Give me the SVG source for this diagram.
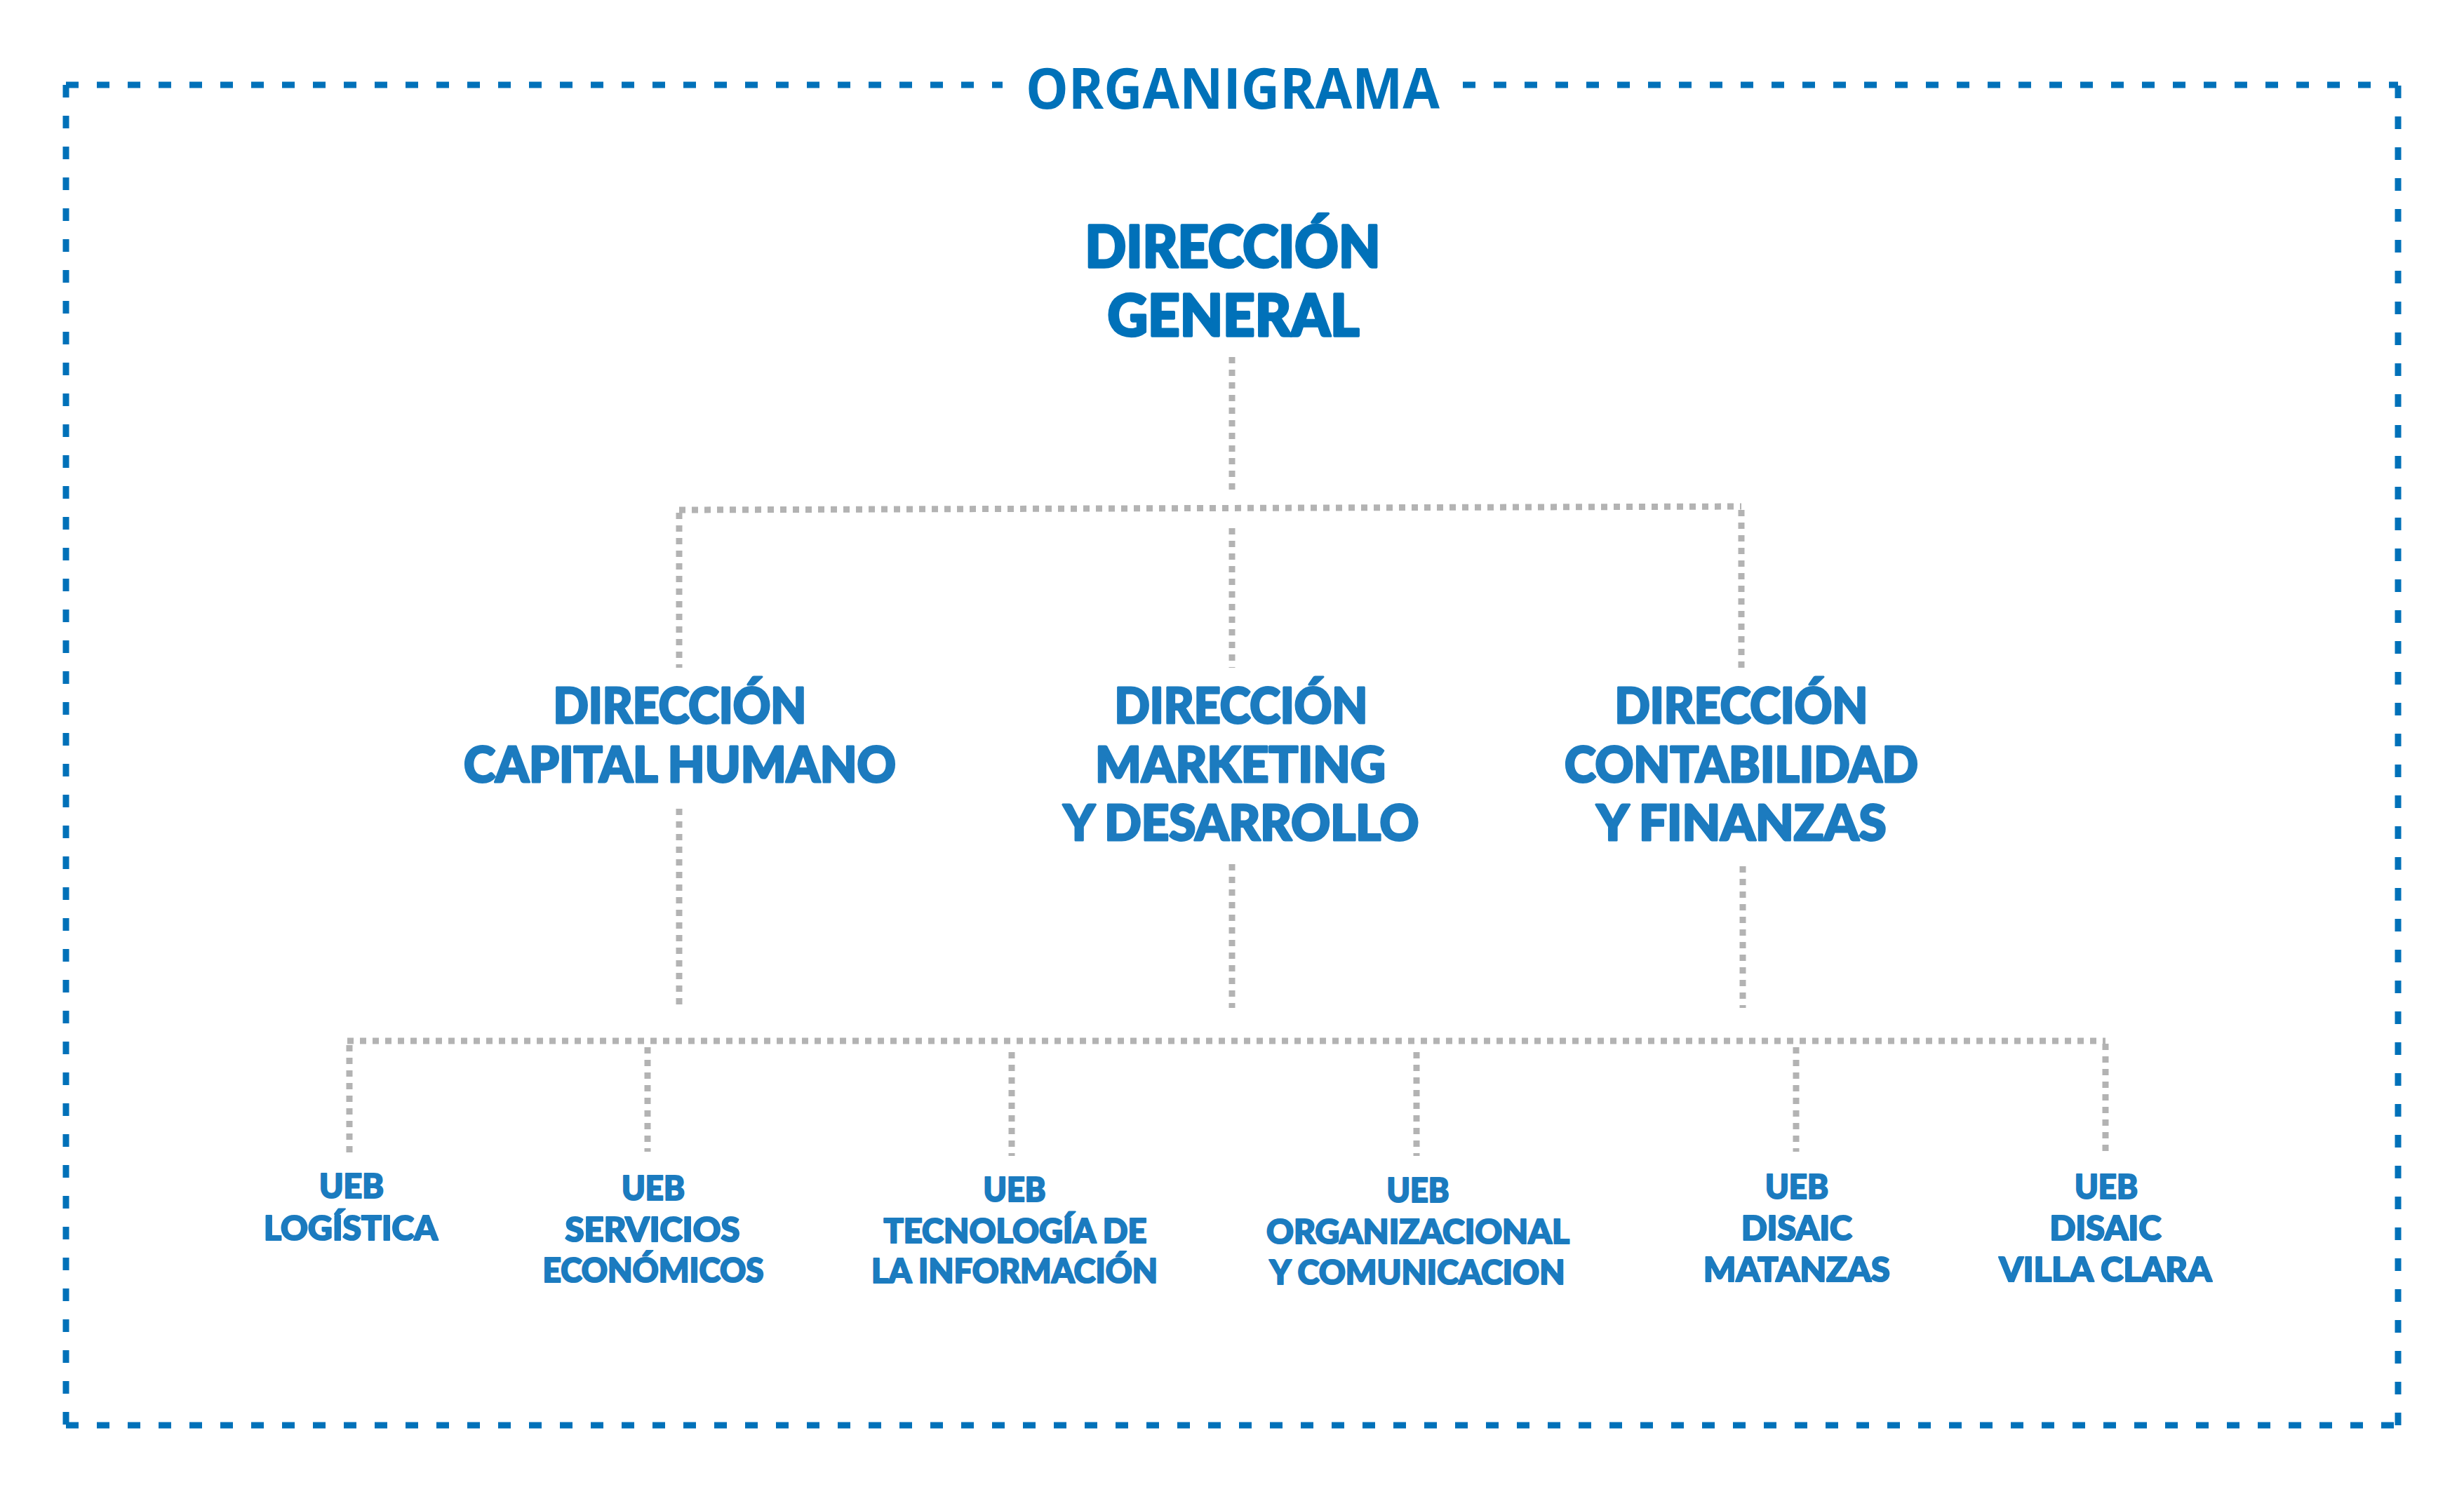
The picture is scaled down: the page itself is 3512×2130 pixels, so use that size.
<svg xmlns="http://www.w3.org/2000/svg" width="3512" height="2130" viewBox="0 0 3512 2130">
<style>
.bg{fill:#ffffff}
.frame{fill:none;stroke:#0071b9;stroke-width:9;stroke-dasharray:18 26}
.conn{fill:none;stroke:#b3b3b3;stroke-width:9;stroke-dasharray:9 9}
.title{font-family:"Open Sans","Liberation Sans",sans-serif;font-weight:700;font-size:80px;fill:#0071b9;text-anchor:middle}
.l1{font-family:Lato,"Liberation Sans",sans-serif;font-weight:900;font-size:81px;fill:#0071b9;stroke:#0071b9;stroke-width:3.5;stroke-linejoin:round;text-anchor:middle}
.l2{font-family:Lato,"Liberation Sans",sans-serif;font-weight:900;font-size:70px;fill:#1c7bbf;stroke:#1c7bbf;stroke-width:3;stroke-linejoin:round;text-anchor:middle}
.l3{font-family:Lato,"Liberation Sans",sans-serif;font-weight:900;font-size:48px;fill:#1b7bbf;stroke:#1b7bbf;stroke-width:2.2;stroke-linejoin:round;text-anchor:middle}
</style>
<rect class="bg" x="0" y="0" width="3512" height="2130"/>
<g id="frame">
<path class="frame" d="M94,121 H1429 M2085,121 H3418 M94,121 V2032 M94,2032 H3418 M3418,2032 V121"/>
</g>
<g id="title">
<text class="title" x="1757" y="155" textLength="590" lengthAdjust="spacingAndGlyphs">ORGANIGRAMA</text>
</g>
<g id="connectors">
<path class="conn" d="M1756,509 V706"/>
<path class="conn" d="M968,727 L2482,722"/>
<path class="conn" d="M968,731 V952"/>
<path class="conn" d="M1756,753 V952"/>
<path class="conn" d="M2482,727 V959"/>
<path class="conn" d="M968,1153 V1438"/>
<path class="conn" d="M1756,1232 V1437"/>
<path class="conn" d="M2484,1235 V1437"/>
<path class="conn" d="M495,1484 H3001"/>
<path class="conn" d="M498,1490 V1647"/>
<path class="conn" d="M923,1493 V1642"/>
<path class="conn" d="M1442,1500 V1648"/>
<path class="conn" d="M2019,1500 V1648"/>
<path class="conn" d="M2560,1493 V1642"/>
<path class="conn" d="M3001,1488 V1645"/>
</g>
<g id="direccion-general">
<text class="l1" x="1757" y="381" textLength="421" lengthAdjust="spacingAndGlyphs">DIRECCIÓN</text>
<text class="l1" x="1758" y="479" textLength="359" lengthAdjust="spacingAndGlyphs">GENERAL</text>
</g>
<g id="direccion-capital-humano">
<text class="l2" x="969" y="1031" textLength="361" lengthAdjust="spacingAndGlyphs">DIRECCIÓN</text>
<text class="l2" x="969" y="1115" textLength="616" lengthAdjust="spacingAndGlyphs">CAPITAL HUMANO</text>
</g>
<g id="direccion-marketing">
<text class="l2" x="1769" y="1031" textLength="361" lengthAdjust="spacingAndGlyphs">DIRECCIÓN</text>
<text class="l2" x="1768" y="1115" textLength="414" lengthAdjust="spacingAndGlyphs">MARKETING</text>
<text class="l2" x="1769" y="1198" textLength="507" lengthAdjust="spacingAndGlyphs">Y DESARROLLO</text>
</g>
<g id="direccion-contabilidad">
<text class="l2" x="2482" y="1031" textLength="361" lengthAdjust="spacingAndGlyphs">DIRECCIÓN</text>
<text class="l2" x="2482" y="1115" textLength="504" lengthAdjust="spacingAndGlyphs">CONTABILIDAD</text>
<text class="l2" x="2482" y="1198" textLength="413" lengthAdjust="spacingAndGlyphs">Y FINANZAS</text>
</g>
<g id="ueb-logistica">
<text class="l3" x="501" y="1708" textLength="92" lengthAdjust="spacingAndGlyphs">UEB</text>
<text class="l3" x="500" y="1768" textLength="248" lengthAdjust="spacingAndGlyphs">LOGÍSTICA</text>
</g>
<g id="ueb-servicios">
<text class="l3" x="931" y="1711" textLength="90" lengthAdjust="spacingAndGlyphs">UEB</text>
<text class="l3" x="930" y="1770" textLength="249" lengthAdjust="spacingAndGlyphs">SERVICIOS</text>
<text class="l3" x="931" y="1828" textLength="315" lengthAdjust="spacingAndGlyphs">ECONÓMICOS</text>
</g>
<g id="ueb-tecnologia">
<text class="l3" x="1446" y="1713" textLength="89" lengthAdjust="spacingAndGlyphs">UEB</text>
<text class="l3" x="1447" y="1772" textLength="375" lengthAdjust="spacingAndGlyphs">TECNOLOGÍA DE</text>
<text class="l3" x="1446" y="1829" textLength="408" lengthAdjust="spacingAndGlyphs">LA INFORMACIÓN</text>
</g>
<g id="ueb-organizacional">
<text class="l3" x="2021" y="1714" textLength="89" lengthAdjust="spacingAndGlyphs">UEB</text>
<text class="l3" x="2021" y="1773" textLength="432" lengthAdjust="spacingAndGlyphs">ORGANIZACIONAL</text>
<text class="l3" x="2020" y="1831" textLength="421" lengthAdjust="spacingAndGlyphs">Y COMUNICACION</text>
</g>
<g id="ueb-disaic-matanzas">
<text class="l3" x="2561" y="1709" textLength="90" lengthAdjust="spacingAndGlyphs">UEB</text>
<text class="l3" x="2561" y="1768" textLength="158" lengthAdjust="spacingAndGlyphs">DISAIC</text>
<text class="l3" x="2561" y="1827" textLength="266" lengthAdjust="spacingAndGlyphs">MATANZAS</text>
</g>
<g id="ueb-disaic-villa-clara">
<text class="l3" x="3002" y="1709" textLength="90" lengthAdjust="spacingAndGlyphs">UEB</text>
<text class="l3" x="3001" y="1768" textLength="159" lengthAdjust="spacingAndGlyphs">DISAIC</text>
<text class="l3" x="3001" y="1827" textLength="303" lengthAdjust="spacingAndGlyphs">VILLA CLARA</text>
</g>
</svg>
